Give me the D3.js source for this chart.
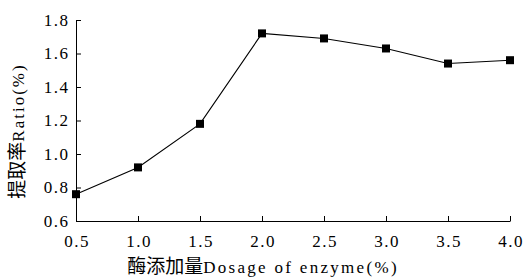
<!DOCTYPE html>
<html>
<head>
<meta charset="utf-8">
<script src="https://cdn.jsdelivr.net/npm/d3@7"></script>
<style>
  body { margin: 0; background: #fff; }
  text { font-family: "Liberation Serif", "Times New Roman", serif; fill: #000; }
  .cjk { font-family: "Noto Sans CJK SC", sans-serif; }
</style>
</head>
<body>
<div id="chart"></div>
<script>
    var dosage = [0.5, 1.0, 1.5, 2.0, 2.5, 3.0, 3.5, 4.0];
    var ratio = [0.76, 0.92, 1.18, 1.72, 1.69, 1.63, 1.54, 1.56];
    var xTicks = [0.5, 1.0, 1.5, 2.0, 2.5, 3.0, 3.5, 4.0];
    var yTicks = [0.6, 0.8, 1.0, 1.2, 1.4, 1.6, 1.8];

    var margin = { top: 20, right: 20, bottom: 58, left: 76 },
        width = 530 - margin.left - margin.right,
        height = 279 - margin.top - margin.bottom;

    var svg = d3.select("#chart")
                .append("svg")
                .attr("width", 530)
                .attr("height", 279)
                .append("g")
                .attr("transform", "translate(" + margin.left + "," + margin.top + ")");

    var xScale = d3.scaleLinear().domain([0.5, 4.0]).range([0, 434]);
    var yScale = d3.scaleLinear().domain([0.6, 1.8]).range([201, 0]);

    // axes, ticks pointing inward
    svg.append("g")
       .attr("transform", "translate(0,201)")
       .call(d3.axisBottom(xScale).tickValues(xTicks).tickSizeInner(-5).tickSizeOuter(0)
             .tickPadding(14).tickFormat(d3.format(".1f")))
       .call(function(g) {
         g.selectAll("text").style("font-size", "17px").style("letter-spacing", "1.5px")
          .attr("dx", "0.7");
       });

    svg.append("g")
       .call(d3.axisLeft(yScale).tickValues(yTicks).tickSizeInner(-5).tickSizeOuter(0)
             .tickPadding(8).tickFormat(d3.format(".1f")))
       .call(function(g) {
         g.selectAll("text").style("font-size", "17px").style("letter-spacing", "1.5px")
          .attr("dx", "1.5");
       });

    var line = d3.line()
        .x(function(d, i) { return xScale(dosage[i]); })
        .y(function(d) { return yScale(d); });

    svg.append("path")
       .datum(ratio)
       .attr("fill", "none")
       .attr("stroke", "#000")
       .attr("stroke-width", 1.1)
       .attr("d", line);

    svg.selectAll(".dot")
       .data(ratio)
       .enter().append("rect")
       .attr("class", "dot")
       .attr("x", function(d, i) { return xScale(dosage[i]) - 4; })
       .attr("y", function(d) { return yScale(d) - 4; })
       .attr("width", 8)
       .attr("height", 8)
       .attr("fill", "#000");

    // axis titles
    var xt = svg.append("text")
       .attr("x", 187)
       .attr("y", 253)
       .style("text-anchor", "middle")
       .style("font-size", "17px");
    xt.append("tspan").attr("class", "cjk").style("font-size", "19px").text("酶添加量");
    xt.append("tspan").style("letter-spacing", "2.3px").text("Dosage of enzyme(%)");

    var yt = svg.append("text")
       .attr("transform", "translate(-52,111) rotate(-90)")
       .style("text-anchor", "middle")
       .style("font-size", "17px");
    yt.append("tspan").attr("class", "cjk").style("font-size", "19px").text("提取率");
    yt.append("tspan").style("letter-spacing", "2px").text("Ratio(%)");
</script>
</body>
</html>
